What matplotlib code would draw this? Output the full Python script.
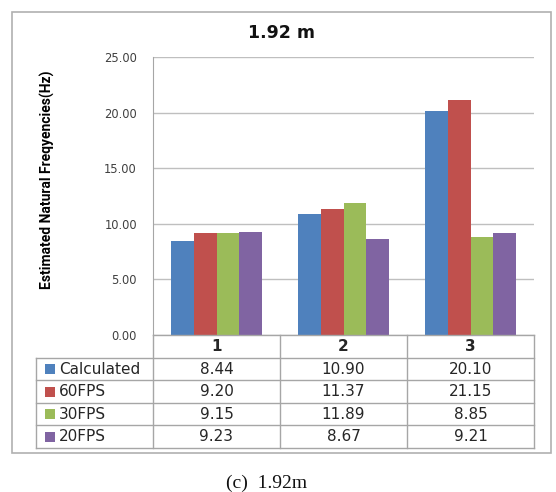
import matplotlib
matplotlib.use("Agg")
import matplotlib.pyplot as plt
from matplotlib.patches import Rectangle
import numpy as np

categories = ["1", "2", "3"]
series_names = ["Calculated", "60FPS", "30FPS", "20FPS"]
calculated = [8.44, 10.90, 20.10]
fps60 = [9.20, 11.37, 21.15]
fps30 = [9.15, 11.89, 8.85]
fps20 = [9.23, 8.67, 9.21]
series = [calculated, fps60, fps30, fps20]
colors = ["#4F81BD", "#C0504D", "#9BBB59", "#8064A2"]
yticks = [0, 5, 10, 15, 20, 25]
title = "1.92 m"
ylabel = "Estimated Natural Freqyencies(Hz)"
caption = "(c)  1.92m"

W, H = 556, 492
fig = plt.figure(figsize=(W / 100, H / 100), dpi=100)

# pixel layout
pl, pr, pt, pb = 153, 534, 57, 335
ax = fig.add_axes([pl / W, 1 - pb / H, (pr - pl) / W, (pb - pt) / H])

x = np.arange(len(categories))
bw = 0.181
for k, (vals, c) in enumerate(zip(series, colors)):
    ax.bar(x + (k - 1.5) * bw, vals, width=bw, color=c, linewidth=0, zorder=3)

ax.set_xlim(-0.5, len(categories) - 0.5)
ax.set_ylim(0, 25)
ax.set_yticks(yticks)
ax.set_yticklabels([f"{v:.2f}" for v in yticks], fontsize=8.3, color="#404040")
ax.tick_params(axis="y", length=0, pad=11.5)
ax.set_xticks([])
ax.grid(axis="y", color="#BFBFBF", linewidth=1, zorder=0)
for s in ["top", "right", "bottom"]:
    ax.spines[s].set_visible(False)
ax.spines["left"].set_color("#A6A6A6")

# overlay in pixel coordinates
ov = fig.add_axes([0, 0, 1, 1], facecolor="none")
ov.set_xlim(0, W)
ov.set_ylim(H, 0)
ov.axis("off")

line_c = "#A6A6A6"
ov.add_patch(Rectangle((12, 12), 551 - 12, 453 - 12, fill=False, edgecolor="#B0B0B0", lw=1.2))

# table geometry
cols = [pl + (pr - pl) * i / len(categories) for i in range(len(categories) + 1)]
rows = [335, 357.5, 380, 402.5, 425, 447.5]
tl = 36
ov.plot([pl, pr], [rows[0], rows[0]], color=line_c, lw=1)
for r in rows[1:]:
    ov.plot([tl, pr], [r, r], color=line_c, lw=1)
for cx in cols:
    ov.plot([cx, cx], [rows[0], rows[-1]], color=line_c, lw=1)
ov.plot([tl, tl], [rows[1], rows[-1]], color=line_c, lw=1)

tfont = dict(family=["DejaVu Sans"], fontsize=11, color="#262626")
for i, cat in enumerate(categories):
    cx = (cols[i] + cols[i + 1]) / 2
    ov.text(cx, (rows[0] + rows[1]) / 2 + 0.5, cat, ha="center", va="center", fontweight="bold", **tfont)
for k, (name, vals, c) in enumerate(zip(series_names, series, colors)):
    cy = (rows[k + 1] + rows[k + 2]) / 2 + 0.5
    ov.add_patch(Rectangle((45, cy - 5), 10, 10, color=c, lw=0))
    ov.text(59, cy, name, ha="left", va="center", **tfont)
    for i, v in enumerate(vals):
        cx = (cols[i] + cols[i + 1]) / 2
        ov.text(cx, cy, f"{v:.2f}", ha="center", va="center", **tfont)

ov.text(281, 33, title, ha="center", va="center", fontsize=12.5, fontweight="bold", color="#111111",
        family=["DejaVu Sans"])
ov.text(47, 180, ylabel, ha="center", va="center", rotation=90, fontsize=10, fontweight="bold",
        fontstretch="condensed", family=["Roboto", "DejaVu Sans"], color="#000000")
ov.text(267, 483, caption, ha="center", va="center", fontsize=14, family=["Liberation Serif", "DejaVu Serif"],
        color="#111111")

fig.savefig("out.png", dpi=100)
